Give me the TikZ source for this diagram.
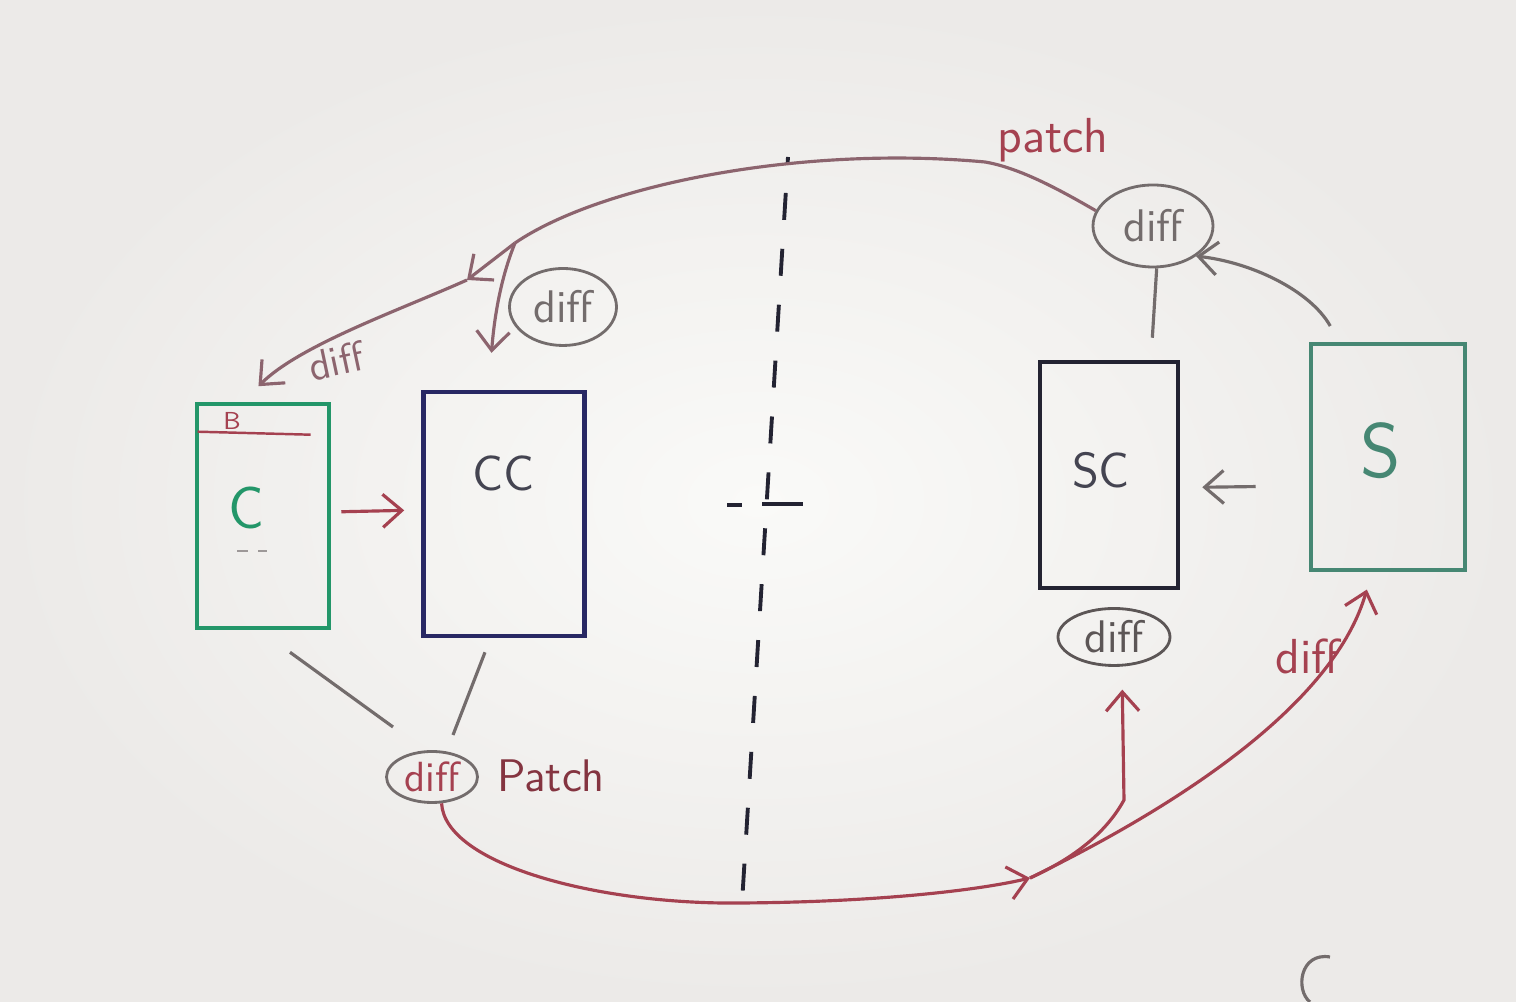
\documentclass[tikz,border=0pt]{standalone}
\usepackage{tikz}
\usetikzlibrary{shapes.geometric,arrows.meta}
\definecolor{boardbg}{RGB}{250,250,248}
\definecolor{boardshade}{RGB}{236,234,232}
\definecolor{penGreen}{RGB}{35,150,105}
\definecolor{penTeal}{RGB}{70,135,115}
\definecolor{penNavy}{RGB}{40,40,100}
\definecolor{penBlack}{RGB}{35,35,50}
\definecolor{penRed}{RGB}{165,65,80}
\definecolor{penMauve}{RGB}{140,100,110}
\definecolor{penGray}{RGB}{115,108,108}
\tikzstyle{box} = [draw,rectangle,line width=1.3pt,inner sep=0pt]
\tikzstyle{bubble} = [draw=penGray,ellipse,line width=0.8pt,inner sep=0pt,text=penGray,font=\sffamily\fontsize{13}{15}\selectfont]
\tikzstyle{edge} = [draw,line width=0.9pt]
\tikzstyle{word} = [inner sep=1pt,font=\sffamily\fontsize{14}{16}\selectfont]

\begin{document}
\begin{tikzpicture}[x=0.1mm,y=-0.1mm,>={Straight Barb[length=1.9mm,width=3.3mm]}]
    \useasboundingbox (0,0) rectangle (1516,1002);
    \shade[inner color=boardbg,outer color=boardshade] (0,0) rectangle (1516,1002);

    % client side
    \node[box,draw=penGreen,minimum width=1.32cm,minimum height=2.24cm] (c) at (263,516) {};
    \node[word,text=penGreen,font=\sffamily\fontsize{17}{19}\selectfont] (cText) at (246,508) {C};
    \node[inner sep=0,text=penRed,font=\sffamily\fontsize{7}{8}\selectfont] (bText) at (232,421) {B};
    \draw[penRed,line width=0.7pt] (c.north west) ++(0.3mm,-3mm) -- ++(11.3mm,-0.3mm);
    \draw[penGray!70,dashed,line width=0.5pt] (237,551) -- (267,551);
    \node[box,draw=penNavy,minimum width=1.61cm,minimum height=2.44cm] (cc) at (504,514) {};
    \node[word,text=penBlack!85] (ccText) at (503,473) {CC};

    % server side
    \node[box,draw=penBlack,minimum width=1.38cm,minimum height=2.26cm] (sc) at (1109,475) {};
    \node[word,text=penBlack!85] (scText) at (1101,470) {SC};
    \node[box,draw=penTeal,minimum width=1.54cm,minimum height=2.26cm] (s) at (1388,457) {};
    \node[word,text=penTeal,font=\sffamily\fontsize{22}{24}\selectfont] (sText) at (1381,451) {S};

    % diff bubbles
    \node[bubble,minimum width=1.20cm,minimum height=0.82cm] (tdiff) at (1153,226) {diff};
    \node[bubble,minimum width=1.07cm,minimum height=0.77cm] (ccdiff) at (563,307) {diff};
    \node[bubble,draw=penGray!80!black,text=penGray!80!black,minimum width=1.12cm,minimum height=0.57cm] (sdiff) at (1114,637) {diff};
    \node[bubble,text=penRed,font=\sffamily\fontsize{12}{14}\selectfont,minimum width=0.91cm,minimum height=0.51cm] (bdiff) at (432,777) {diff};

    % labels
    \node[word,text=penRed] (patchTop) at (1053,140) {patch};
    \node[word,text=penRed!80!black,font=\sffamily\fontsize{13}{15}\selectfont] (patchLow) at (551,776) {Patch};
    \node[word,text=penMauve,rotate=12,font=\sffamily\fontsize{12}{14}\selectfont] (cDiff) at (336,361) {diff};
    \node[word,text=penRed] (sDiff) at (1308,656) {diff};

    % divider
    \draw[penBlack,line width=1.1pt,dash pattern=on 2.7mm off 2.9mm,dash phase=2mm] (788,157) -- (742,903);
    \draw[penBlack,line width=1.1pt] (727,505) -- (742,505);
    \draw[penBlack,line width=1.1pt] (762,504) -- (803,504);

    % box to box
    \draw[->,edge,penRed,shorten <=1mm,shorten >=1.7mm] ([yshift=0.4mm]c.east) -- ([yshift=0.4mm]cc.west);
    \draw[->,edge,penGray,shorten <=5.3mm,shorten >=2.2mm] (s.200) -- (sc.-10);

    % top route
    \coordinate (fork) at (515,243);
    \coordinate (midTip) at (467,280);
    \draw[edge,penMauve] (tdiff.165) .. controls (1060,190) and (1020,168) .. (985,162)
        .. controls (800,145) and (600,185) .. (fork);
    \draw[->,edge,penMauve] (fork) -- (midTip);
    \draw[->,edge,penMauve,shorten >=2.2mm] (midTip) .. controls (400,310) and (300,345) .. (c.100);
    \draw[->,edge,penMauve,shorten >=3.7mm] (fork) .. controls (500,280) and (494,320) .. (cc.97);
    \draw[edge,penGray,shorten >=2.2mm] (tdiff.-85) -- (sc.70);
    \draw[->,edge,penGray,shorten <=1.8mm] (s.113) .. controls (1310,290) and (1250,262) .. (tdiff.-35);

    % bottom route
    \draw[edge,penGray] ([xshift=2.7mm,yshift=-2.2mm]c.south) -- ([xshift=-3.9mm,yshift=5mm]bdiff.center);
    \draw[edge,penGray] ([xshift=-1.9mm,yshift=-1.4mm]cc.south) -- ([xshift=2.1mm,yshift=4.2mm]bdiff.center);
    \coordinate (bTip) at (1030,878);
    \coordinate (bBend) at (1124,800);
    \draw[->,edge,penRed] (bdiff.-70) .. controls (445,865) and (600,905) .. (742,903)
        .. controls (880,902) and (980,890) .. (bTip);
    \draw[->,edge,penRed,shorten >=2.3mm] (bTip) .. controls (1070,860) and (1105,835) .. (bBend) -- (sdiff.-75);
    \draw[->,edge,penRed,shorten >=1.8mm] (bTip) .. controls (1190,800) and (1335,700) .. (s.-98);

    % stray stroke
    \draw[penGray,line width=0.9pt] (1330,957) .. controls (1300,952) and (1295,990) .. (1310,1002);
\end{tikzpicture}
\end{document}
